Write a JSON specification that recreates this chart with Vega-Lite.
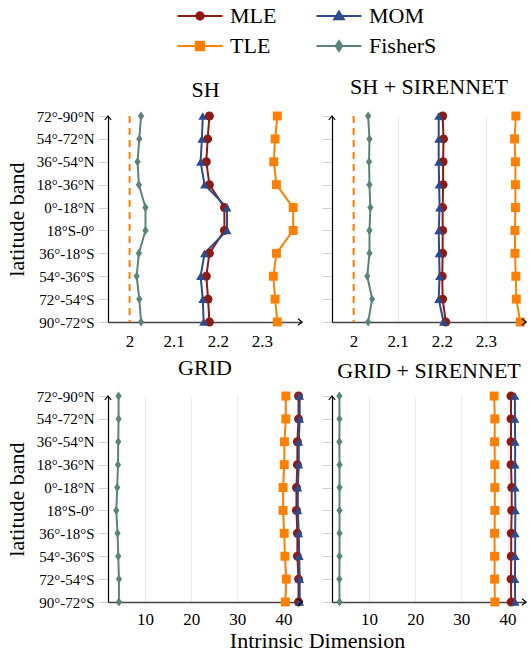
{
  "$schema": "https://vega.github.io/schema/vega-lite/v6.json",
  "background": "white",
  "padding": {"left": 5, "top": 0, "right": 0, "bottom": 0},
  "datasets": {
    "truth": [{"d": 2}],
    "sh": [
      {"band": "72°-90°N", "k": 0, "MLE": 2.181, "MOM": 2.166, "TLE": 2.335, "FisherS": 2.026},
      {"band": "54°-72°N", "k": 1, "MLE": 2.177, "MOM": 2.164, "TLE": 2.330, "FisherS": 2.022},
      {"band": "36°-54°N", "k": 2, "MLE": 2.174, "MOM": 2.161, "TLE": 2.327, "FisherS": 2.018},
      {"band": "18°-36°N", "k": 3, "MLE": 2.181, "MOM": 2.170, "TLE": 2.333, "FisherS": 2.021},
      {"band": "0°-18°N", "k": 4, "MLE": 2.215, "MOM": 2.221, "TLE": 2.371, "FisherS": 2.036},
      {"band": "18°S-0°", "k": 5, "MLE": 2.215, "MOM": 2.221, "TLE": 2.371, "FisherS": 2.036},
      {"band": "36°-18°S", "k": 6, "MLE": 2.181, "MOM": 2.170, "TLE": 2.333, "FisherS": 2.021},
      {"band": "54°-36°S", "k": 7, "MLE": 2.174, "MOM": 2.161, "TLE": 2.326, "FisherS": 2.016},
      {"band": "72°-54°S", "k": 8, "MLE": 2.178, "MOM": 2.166, "TLE": 2.330, "FisherS": 2.022},
      {"band": "90°-72°S", "k": 9, "MLE": 2.181, "MOM": 2.168, "TLE": 2.335, "FisherS": 2.026}
    ],
    "sh_siren": [
      {"band": "72°-90°N", "k": 0, "MLE": 2.202, "MOM": 2.193, "TLE": 2.368, "FisherS": 2.033},
      {"band": "54°-72°N", "k": 1, "MLE": 2.204, "MOM": 2.193, "TLE": 2.365, "FisherS": 2.036},
      {"band": "36°-54°N", "k": 2, "MLE": 2.203, "MOM": 2.193, "TLE": 2.367, "FisherS": 2.035},
      {"band": "18°-36°N", "k": 3, "MLE": 2.203, "MOM": 2.194, "TLE": 2.367, "FisherS": 2.036},
      {"band": "0°-18°N", "k": 4, "MLE": 2.202, "MOM": 2.195, "TLE": 2.367, "FisherS": 2.038},
      {"band": "18°S-0°", "k": 5, "MLE": 2.202, "MOM": 2.193, "TLE": 2.366, "FisherS": 2.036},
      {"band": "36°-18°S", "k": 6, "MLE": 2.202, "MOM": 2.194, "TLE": 2.366, "FisherS": 2.036},
      {"band": "54°-36°S", "k": 7, "MLE": 2.201, "MOM": 2.195, "TLE": 2.368, "FisherS": 2.031},
      {"band": "72°-54°S", "k": 8, "MLE": 2.202, "MOM": 2.193, "TLE": 2.369, "FisherS": 2.042},
      {"band": "90°-72°S", "k": 9, "MLE": 2.209, "MOM": 2.204, "TLE": 2.378, "FisherS": 2.033}
    ],
    "grid": [
      {"band": "72°-90°N", "k": 0, "MLE": 43.25, "MOM": 43.5, "TLE": 40.5, "FisherS": 4.29},
      {"band": "54°-72°N", "k": 1, "MLE": 43.25, "MOM": 43.5, "TLE": 40.5, "FisherS": 4.29},
      {"band": "36°-54°N", "k": 2, "MLE": 43.0, "MOM": 43.3, "TLE": 40.2, "FisherS": 4.22},
      {"band": "18°-36°N", "k": 3, "MLE": 43.0, "MOM": 43.3, "TLE": 40.15, "FisherS": 4.16},
      {"band": "0°-18°N", "k": 4, "MLE": 42.8, "MOM": 43.1, "TLE": 39.9, "FisherS": 4.0},
      {"band": "18°S-0°", "k": 5, "MLE": 42.8, "MOM": 43.1, "TLE": 39.9, "FisherS": 3.79},
      {"band": "36°-18°S", "k": 6, "MLE": 43.0, "MOM": 43.3, "TLE": 40.15, "FisherS": 4.07},
      {"band": "54°-36°S", "k": 7, "MLE": 43.0, "MOM": 43.4, "TLE": 40.3, "FisherS": 4.22},
      {"band": "72°-54°S", "k": 8, "MLE": 43.25, "MOM": 43.5, "TLE": 40.6, "FisherS": 4.37},
      {"band": "90°-72°S", "k": 9, "MLE": 43.25, "MOM": 43.5, "TLE": 40.4, "FisherS": 4.37}
    ],
    "grid_siren": [
      {"band": "72°-90°N", "k": 0, "MLE": 40.75, "MOM": 41.6, "TLE": 37.1, "FisherS": 3.6},
      {"band": "54°-72°N", "k": 1, "MLE": 40.75, "MOM": 41.6, "TLE": 37.25, "FisherS": 3.63},
      {"band": "36°-54°N", "k": 2, "MLE": 40.75, "MOM": 41.65, "TLE": 37.2, "FisherS": 3.6},
      {"band": "18°-36°N", "k": 3, "MLE": 40.75, "MOM": 41.65, "TLE": 37.25, "FisherS": 3.63},
      {"band": "0°-18°N", "k": 4, "MLE": 40.9, "MOM": 41.65, "TLE": 37.25, "FisherS": 3.63},
      {"band": "18°S-0°", "k": 5, "MLE": 40.9, "MOM": 41.7, "TLE": 37.25, "FisherS": 3.63},
      {"band": "36°-18°S", "k": 6, "MLE": 40.8, "MOM": 41.65, "TLE": 37.2, "FisherS": 3.63},
      {"band": "54°-36°S", "k": 7, "MLE": 40.8, "MOM": 41.65, "TLE": 37.2, "FisherS": 3.63},
      {"band": "72°-54°S", "k": 8, "MLE": 40.75, "MOM": 41.6, "TLE": 37.2, "FisherS": 3.6},
      {"band": "90°-72°S", "k": 9, "MLE": 40.8, "MOM": 41.65, "TLE": 37.25, "FisherS": 3.63}
    ]
  },
  "columns": 2,
  "bounds": "flush",
  "spacing": {"row": 74, "column": 30},
  "resolve": {"scale": {"x": "independent", "y": "independent"}, "legend": {"color": "independent"}},
  "concat": [
    {
      "width": 194, "height": 206,
      "resolve": {"axis": {"x": "independent"}},
      "layer": [
        {"data": {"name": "truth"}, "mark": {"type": "rule", "color": "#ff8000", "strokeWidth": 2, "strokeDash": [7, 5]},
          "encoding": {"x": {"field": "d", "type": "quantitative", "axis": {"orient": "top", "title": "SH", "titleFont": "Liberation Serif", "titleFontWeight": "normal", "labels": false, "ticks": false, "domain": false, "grid": false, "titlePadding": 15}}}},
        {
          "data": {"name": "sh"},
          "transform": [{"fold": ["MLE", "MOM", "TLE", "FisherS"], "as": ["method", "value"]}],
          "encoding": {
            "x": {"field": "value", "type": "quantitative", "title": null, "scale": {"domain": [1.951, 2.391], "nice": false, "zero": false}, "axis": {"values": [2, 2.1, 2.2, 2.3], "format": "~g"}},
            "y": {"field": "band", "type": "ordinal", "scale": {"type": "point", "padding": 0, "domain": ["72°-90°N", "54°-72°N", "36°-54°N", "18°-36°N", "0°-18°N", "18°S-0°", "36°-18°S", "54°-36°S", "72°-54°S", "90°-72°S"]}, "axis": {"title": "latitude band"}},
            "color": {"field": "method", "type": "nominal", "scale": {"domain": ["MLE", "MOM", "TLE", "FisherS"], "range": ["#8c1a15", "#2d4b8c", "#ff8000", "#5a8479"]},
              "legend": {
                "orient": "none", "legendX": 76, "legendY": -116, "columns": 2, "direction": "horizontal", "title": null,
                "symbolSize": 900, "labelFontSize": 22, "labelFont": "Liberation Serif", "labelFontWeight": "normal", "labelColor": "black",
                "labelOffset": 14, "columnPadding": 35, "rowPadding": 3,
                "encode": {"symbols": {"update": {
                  "shape": {"signal": "datum.value === 'MLE' ? 'M-1.5,0H1.5M0.25,0A0.25,0.25,0,1,1,-0.25,0A0.25,0.25,0,1,1,0.25,0Z' : datum.value === 'MOM' ? 'M-1.5,0H1.5M0,-0.3L0.32,0.22H-0.32Z' : datum.value === 'TLE' ? 'M-1.5,0H1.5M-0.28,-0.28H0.28V0.28H-0.28Z' : 'M-1.5,0H1.5M0,-0.33L0.22,0L0,0.33L-0.22,0Z'"},
                  "stroke": {"signal": "datum.value === 'MLE' ? '#8c1a15' : datum.value === 'MOM' ? '#2d4b8c' : datum.value === 'TLE' ? '#ff8000' : '#5a8479'"},
                  "fill": {"signal": "datum.value === 'MLE' ? '#8c1a15' : datum.value === 'MOM' ? '#2d4b8c' : datum.value === 'TLE' ? '#ff8000' : '#5a8479'"},
                  "strokeWidth": {"value": 2},
                  "opacity": {"value": 1}
                }}}
              }},
            "shape": {"field": "method", "type": "nominal", "scale": {"domain": ["MLE", "MOM", "TLE", "FisherS"], "range": ["circle", "triangle-up", "square", "M0,-1L0.7,0L0,1L-0.7,0Z"]}, "legend": null},
            "order": {"field": "k", "type": "quantitative"}
          },
          "layer": [
            {"mark": {"type": "line", "strokeWidth": 2}},
            {"mark": {"type": "point", "filled": true, "opacity": 1, "size": 80}}
          ]
        },
        {"data": {"name": "truth"}, "mark": {"type": "point", "shape": "M-1,-0.8L0,0L-1,0.8", "filled": false, "stroke": "black", "strokeWidth": 1.2, "size": 64, "opacity": 1}, "encoding": {"x": {"datum": 2.391, "axis": null}, "y": {"datum": "90°-72°S"}}},
        {"data": {"name": "truth"}, "mark": {"type": "point", "shape": "M-0.8,1L0,0L0.8,1", "filled": false, "stroke": "black", "strokeWidth": 1.2, "size": 64, "opacity": 1}, "encoding": {"x": {"datum": 1.951, "axis": null}, "y": {"datum": "72°-90°N"}}}
      ]
    },
    {
      "width": 194, "height": 206,
      "title": {"text": "SH + SIRENNET", "offset": 13, "font": "Liberation Serif", "fontWeight": "normal"},
      "layer": [
        {"data": {"name": "truth"}, "mark": {"type": "rule", "color": "#ff8000", "strokeWidth": 2, "strokeDash": [7, 5]}, "encoding": {"x": {"field": "d", "type": "quantitative"}}},
        {
          "data": {"name": "sh_siren"},
          "transform": [{"fold": ["MLE", "MOM", "TLE", "FisherS"], "as": ["method", "value"]}],
          "encoding": {
            "x": {"field": "value", "type": "quantitative", "title": null, "scale": {"domain": [1.951, 2.391], "nice": false, "zero": false}, "axis": {"values": [2, 2.1, 2.2, 2.3], "format": "~g"}},
            "y": {"field": "band", "type": "ordinal", "scale": {"type": "point", "padding": 0, "domain": ["72°-90°N", "54°-72°N", "36°-54°N", "18°-36°N", "0°-18°N", "18°S-0°", "36°-18°S", "54°-36°S", "72°-54°S", "90°-72°S"]}, "axis": {"title": null, "labels": false}},
            "color": {"field": "method", "type": "nominal", "scale": {"domain": ["MLE", "MOM", "TLE", "FisherS"], "range": ["#8c1a15", "#2d4b8c", "#ff8000", "#5a8479"]}, "legend": null},
            "shape": {"field": "method", "type": "nominal", "scale": {"domain": ["MLE", "MOM", "TLE", "FisherS"], "range": ["circle", "triangle-up", "square", "M0,-1L0.7,0L0,1L-0.7,0Z"]}, "legend": null},
            "order": {"field": "k", "type": "quantitative"}
          },
          "layer": [
            {"mark": {"type": "line", "strokeWidth": 2}},
            {"mark": {"type": "point", "filled": true, "opacity": 1, "size": 80}}
          ]
        },
        {"data": {"name": "truth"}, "mark": {"type": "point", "shape": "M-1,-0.8L0,0L-1,0.8", "filled": false, "stroke": "black", "strokeWidth": 1.2, "size": 64, "opacity": 1}, "encoding": {"x": {"datum": 2.391}, "y": {"datum": "90°-72°S"}}},
        {"data": {"name": "truth"}, "mark": {"type": "point", "shape": "M-0.8,1L0,0L0.8,1", "filled": false, "stroke": "black", "strokeWidth": 1.2, "size": 64, "opacity": 1}, "encoding": {"x": {"datum": 1.951}, "y": {"datum": "72°-90°N"}}}
      ]
    },
    {
      "width": 194, "height": 206,
      "title": {"text": "GRID", "offset": 9, "font": "Liberation Serif", "fontWeight": "normal"},
      "layer": [
        {
          "data": {"name": "grid"},
          "transform": [{"fold": ["MLE", "MOM", "TLE", "FisherS"], "as": ["method", "value"]}],
          "encoding": {
            "x": {"field": "value", "type": "quantitative", "scale": {"domain": [2, 44], "nice": false, "zero": false}, "axis": {"values": [10, 20, 30, 40], "labelPadding": 9, "title": "Intrinsic Dimension", "titleX": 209, "titlePadding": 3}},
            "y": {"field": "band", "type": "ordinal", "scale": {"type": "point", "padding": 0, "domain": ["72°-90°N", "54°-72°N", "36°-54°N", "18°-36°N", "0°-18°N", "18°S-0°", "36°-18°S", "54°-36°S", "72°-54°S", "90°-72°S"]}, "axis": {"title": "latitude band"}},
            "color": {"field": "method", "type": "nominal", "scale": {"domain": ["MLE", "MOM", "TLE", "FisherS"], "range": ["#8c1a15", "#2d4b8c", "#ff8000", "#5a8479"]}, "legend": null},
            "shape": {"field": "method", "type": "nominal", "scale": {"domain": ["MLE", "MOM", "TLE", "FisherS"], "range": ["circle", "triangle-up", "square", "M0,-1L0.7,0L0,1L-0.7,0Z"]}, "legend": null},
            "order": {"field": "k", "type": "quantitative"}
          },
          "layer": [
            {"mark": {"type": "line", "strokeWidth": 2}},
            {"mark": {"type": "point", "filled": true, "opacity": 1, "size": 80}}
          ]
        },
        {"data": {"name": "truth"}, "mark": {"type": "point", "shape": "M-1,-0.8L0,0L-1,0.8", "filled": false, "stroke": "black", "strokeWidth": 1.2, "size": 64, "opacity": 1}, "encoding": {"x": {"datum": 44}, "y": {"datum": "90°-72°S"}}},
        {"data": {"name": "truth"}, "mark": {"type": "point", "shape": "M-0.8,1L0,0L0.8,1", "filled": false, "stroke": "black", "strokeWidth": 1.2, "size": 64, "opacity": 1}, "encoding": {"x": {"datum": 2}, "y": {"datum": "72°-90°N"}}}
      ]
    },
    {
      "width": 194, "height": 206,
      "title": {"text": "GRID + SIRENNET", "offset": 9, "font": "Liberation Serif", "fontWeight": "normal"},
      "layer": [
        {
          "data": {"name": "grid_siren"},
          "transform": [{"fold": ["MLE", "MOM", "TLE", "FisherS"], "as": ["method", "value"]}],
          "encoding": {
            "x": {"field": "value", "type": "quantitative", "title": null, "scale": {"domain": [2, 44], "nice": false, "zero": false}, "axis": {"values": [10, 20, 30, 40], "labelPadding": 9}},
            "y": {"field": "band", "type": "ordinal", "scale": {"type": "point", "padding": 0, "domain": ["72°-90°N", "54°-72°N", "36°-54°N", "18°-36°N", "0°-18°N", "18°S-0°", "36°-18°S", "54°-36°S", "72°-54°S", "90°-72°S"]}, "axis": {"title": null, "labels": false}},
            "color": {"field": "method", "type": "nominal", "scale": {"domain": ["MLE", "MOM", "TLE", "FisherS"], "range": ["#8c1a15", "#2d4b8c", "#ff8000", "#5a8479"]}, "legend": null},
            "shape": {"field": "method", "type": "nominal", "scale": {"domain": ["MLE", "MOM", "TLE", "FisherS"], "range": ["circle", "triangle-up", "square", "M0,-1L0.7,0L0,1L-0.7,0Z"]}, "legend": null},
            "order": {"field": "k", "type": "quantitative"}
          },
          "layer": [
            {"mark": {"type": "line", "strokeWidth": 2}},
            {"mark": {"type": "point", "filled": true, "opacity": 1, "size": 80}}
          ]
        },
        {"data": {"name": "truth"}, "mark": {"type": "point", "shape": "M-1,-0.8L0,0L-1,0.8", "filled": false, "stroke": "black", "strokeWidth": 1.2, "size": 64, "opacity": 1}, "encoding": {"x": {"datum": 44}, "y": {"datum": "90°-72°S"}}},
        {"data": {"name": "truth"}, "mark": {"type": "point", "shape": "M-0.8,1L0,0L0.8,1", "filled": false, "stroke": "black", "strokeWidth": 1.2, "size": 64, "opacity": 1}, "encoding": {"x": {"datum": 2}, "y": {"datum": "72°-90°N"}}}
      ]
    }
  ],
  "config": {
    "font": "Liberation Serif",
    "view": {"stroke": null},
    "title": {"font": "Liberation Serif", "fontSize": 22, "fontWeight": "normal", "color": "black", "frame": "group"},
    "legend": {"labelFont": "Liberation Serif"},
    "axis": {
      "gridColor": "#ececec", "gridWidth": 1,
      "labelFont": "Liberation Serif", "labelColor": "black",
      "titleFont": "Liberation Serif", "titleFontSize": 22, "titleFontWeight": "normal", "titleColor": "black"
    },
    "axisX": {"ticks": false, "labelPadding": 11, "labelFontSize": 17, "domainColor": "#444", "domainWidth": 1.5},
    "axisY": {"tickSize": 10, "tickColor": "#d0d0d0", "labelPadding": 4, "labelFontSize": 15, "domainColor": "black", "domainWidth": 1.2, "titlePadding": 8}
  }
}
